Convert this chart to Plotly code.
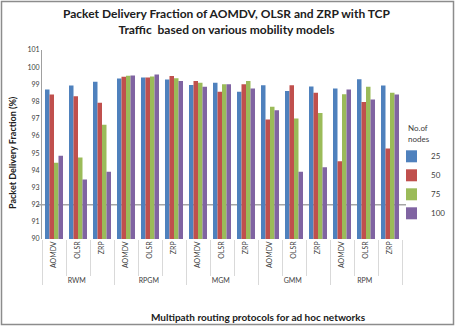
import plotly.graph_objects as go

groups = ["RWM", "RPGM", "MGM", "GMM", "RPM"]
protocols = ["AOMDV", "OLSR", "ZRP"]
series_names = ["25", "50", "75", "100"]
colors = ["#4F81BD", "#C0504D", "#9BBB59", "#8064A2"]

nodes_25 = [98.70, 98.94, 99.15, 99.34, 99.40, 99.28, 98.97, 99.09, 98.57, 98.95, 98.62, 98.88, 98.76, 99.30, 98.93]
nodes_50 = [98.41, 98.31, 97.93, 99.44, 99.40, 99.48, 99.19, 98.57, 99.01, 96.96, 98.95, 98.51, 94.53, 97.98, 95.27]
nodes_75 = [94.44, 94.75, 96.65, 99.50, 99.46, 99.36, 99.09, 99.01, 99.20, 97.69, 97.02, 97.34, 98.43, 98.86, 98.51]
nodes_100 = [94.84, 93.47, 93.91, 99.52, 99.57, 99.20, 98.86, 99.01, 98.76, 97.50, 93.91, 94.17, 98.70, 98.12, 98.41]
y_ticks = list(range(90, 102))

outer = [g for g in groups for _ in protocols]
inner = [p for _ in groups for p in protocols]

FONT = "Lato"
fig = go.Figure()
for name, vals, col in zip(series_names, [nodes_25, nodes_50, nodes_75, nodes_100], colors):
    fig.add_trace(go.Bar(x=[outer, inner], y=vals, name=name, marker_color=col,
                         marker_line_width=0))

W, H = 455, 326
L, R, T, B = 42, 53, 50, 87
pw, ph = W - L - R, H - T - B

def px(x):
    return (x - L) / pw

def py(y):
    return (H - B - y) / ph

fig.update_layout(
    width=W, height=H, autosize=False,
    margin=dict(l=L, r=R, t=T, b=B, autoexpand=False),
    paper_bgcolor="white", plot_bgcolor="white",
    barmode="group", bargap=0.25, bargroupgap=0,
    font=dict(family=FONT, size=8, color="#404040"),
    legend=dict(title=dict(text="No.of<br>nodes", font=dict(size=8, color="#404040")),
                xref="container", yref="container", indentation=-15,
                x=406 / W, xanchor="left", y=1 - 121 / H, yanchor="top",
                font=dict(size=8, color="#404040"), tracegroupgap=0,
                bgcolor="rgba(0,0,0,0)"),
    xaxis=dict(type="multicategory", tickangle=-90, showgrid=False, automargin=False,
               ticks="outside", tickson="boundaries", ticklen=36, tickcolor="#D9D9D9",
               showdividers=True, dividercolor="#D9D9D9", dividerwidth=1,
               showline=False, tickfont=dict(size=7, color="#404040")),
    yaxis=dict(range=[90, 101], tickvals=y_ticks, showgrid=False, zeroline=False, automargin=False,
               showline=True, linecolor="#A0A0A0", linewidth=1,
               tickfont=dict(size=7, color="#404040"), ticks=""),
    showlegend=True,
)

fig.add_shape(type="line", xref="paper", yref="y", x0=-4 / pw, x1=1 + 4 / pw, y0=92, y1=92,
              line=dict(color="#A6A6A6", width=1.5), layer="below")
fig.add_shape(type="rect", xref="paper", yref="paper",
              x0=px(1.5), x1=px(W - 1.5), y0=py(H - 1.5), y1=py(1.5),
              line=dict(color="#8C8C8C", width=1.5))

fig.add_annotation(text="<b>Packet Delivery Fraction of AOMDV, OLSR and ZRP with TCP<br>Traffic  based on various mobility models</b>",
                   xref="paper", yref="paper", x=px(227), y=py(21.5),
                   xanchor="center", yanchor="middle", showarrow=False,
                   font=dict(family=FONT, size=12, color="#202020"))
fig.add_annotation(text="<b>Multipath routing protocols for ad hoc networks</b>",
                   xref="paper", yref="paper", x=px(258), y=py(317),
                   xanchor="center", yanchor="middle", showarrow=False,
                   font=dict(family=FONT, size=10, color="#202020"))
fig.add_annotation(text="<b>Packet Delivery Fraction (%)</b>",
                   xref="paper", yref="paper", x=px(12), y=py(153),
                   xanchor="center", yanchor="middle", textangle=-90, showarrow=False,
                   font=dict(family=FONT, size=9, color="#202020"))

fig.write_html("out.html", config={"displayModeBar": False},
               post_script="document.body.style.margin='0';document.body.style.padding='0';")
